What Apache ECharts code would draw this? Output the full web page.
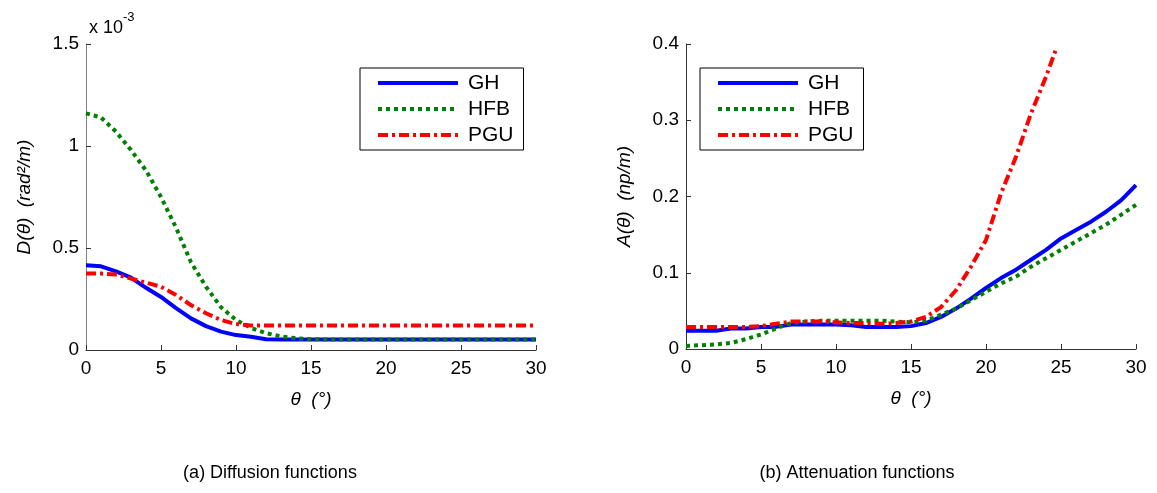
<!DOCTYPE html>
<html>
<head>
	<meta charset="utf-8">
	<title>Diffusion and attenuation functions</title>
	<script src="https://cdn.jsdelivr.net/npm/echarts@6/dist/echarts.min.js"></script>
	<style>
		html, body { margin: 0; padding: 0; background: #fff; }
		#main { width: 1157px; height: 493px; }
	</style>
</head>
<body>
	<div id="main"></div>
	<script>
		// theta (degrees), sampled every 1 degree
		var theta = [0, 1, 2, 3, 4, 5, 6, 7, 8, 9, 10, 11, 12, 13, 14, 15, 16, 17, 18, 19, 20, 21, 22, 23, 24, 25, 26, 27, 28, 29, 30];
		var thetaPguAtt = [0, 1, 2, 3, 4, 5, 6, 7, 8, 9, 10, 11, 12, 13, 14, 15, 16, 17, 18, 19, 20, 21, 22, 23, 24, 24.7];

		// (a) D(theta), in units of 1e-3 rad^2/m
		var diffGH = [0.415, 0.41, 0.385, 0.355, 0.305, 0.26, 0.205, 0.155, 0.117, 0.09, 0.073, 0.065, 0.053, 0.052, 0.052, 0.052,
			0.052, 0.052, 0.052, 0.052, 0.052, 0.052, 0.052, 0.052, 0.052, 0.052, 0.052, 0.052, 0.052, 0.052, 0.052];
		var diffHFB = [1.16, 1.14, 1.07, 0.98, 0.88, 0.75, 0.6, 0.43, 0.31, 0.21, 0.147, 0.108, 0.083, 0.066, 0.058, 0.053,
			0.052, 0.052, 0.052, 0.052, 0.052, 0.052, 0.052, 0.052, 0.052, 0.052, 0.052, 0.052, 0.052, 0.052, 0.052];
		var diffPGU = [0.375, 0.375, 0.37, 0.35, 0.33, 0.31, 0.27, 0.22, 0.18, 0.147, 0.127, 0.12, 0.12, 0.12, 0.12, 0.12,
			0.12, 0.12, 0.12, 0.12, 0.12, 0.12, 0.12, 0.12, 0.12, 0.12, 0.12, 0.12, 0.12, 0.12, 0.12];

		// (b) A(theta), np/m
		var attGH = [0.024, 0.024, 0.024, 0.027, 0.027, 0.029, 0.029, 0.032, 0.032, 0.032, 0.032, 0.031, 0.029, 0.029, 0.029, 0.03,
			0.034, 0.042, 0.053, 0.066, 0.08, 0.093, 0.104, 0.117, 0.13, 0.145, 0.156, 0.167, 0.18, 0.195, 0.215];
		var attHFB = [0.004, 0.005, 0.006, 0.008, 0.013, 0.019, 0.027, 0.034, 0.036, 0.037, 0.037, 0.037, 0.037, 0.037, 0.036, 0.035,
			0.037, 0.045, 0.053, 0.064, 0.075, 0.086, 0.095, 0.108, 0.119, 0.13, 0.141, 0.152, 0.163, 0.176, 0.189];
		var attPGU = [0.029, 0.029, 0.029, 0.029, 0.029, 0.03, 0.033, 0.036, 0.036, 0.036, 0.035, 0.034, 0.034, 0.033, 0.034, 0.036,
			0.042, 0.055, 0.077, 0.108, 0.143, 0.204, 0.252, 0.309, 0.357, 0.395];

		var seriesNames = ['GH', 'HFB', 'PGU'];
		var xTicks = { min: 0, max: 30, interval: 5 };

		var pairs = function(xs, ys) {
			return ys.map(function(v, i) { return [xs[i], v]; });
		};

		var font = 'Liberation Sans, Arial, sans-serif';
		var styles = {
			GH: { color: '#0000ff', width: 4, type: 'solid' },
			HFB: { color: '#008000', width: 4, type: [4, 4] },
			PGU: { color: '#ff0000', width: 4, type: [10, 4, 3, 4] }
		};

		var makeLine = function(name, idx, data) {
			var s = styles[name];
			return {
				name: name,
				type: 'line',
				xAxisIndex: idx,
				yAxisIndex: idx,
				data: data,
				symbol: 'none',
				animation: false,
				lineStyle: { color: s.color, width: s.width, type: s.type },
				itemStyle: { color: s.color }
			};
		};

		var makeXAxis = function(idx) {
			return {
				type: 'value', gridIndex: idx,
				min: xTicks.min, max: xTicks.max, interval: xTicks.interval,
				name: 'θ  (°)', nameLocation: 'middle', nameGap: 40,
				nameTextStyle: { fontFamily: font, fontSize: 19, fontStyle: 'italic', color: '#000' },
				axisLine: { lineStyle: { color: '#333', width: 1 } },
				axisTick: { inside: true, length: 5, lineStyle: { color: '#333' } },
				axisLabel: { fontFamily: font, fontSize: 19, color: '#000', margin: 9 },
				splitLine: { show: false }
			};
		};

		var makeYAxis = function(idx, max, interval, name, lineColor) {
			return {
				type: 'value', gridIndex: idx,
				min: 0, max: max, interval: interval,
				name: name, nameLocation: 'middle', nameGap: 52,
				nameTextStyle: { fontFamily: font, fontSize: 19, fontStyle: 'italic', color: '#000' },
				axisLine: { show: true, lineStyle: { color: lineColor, width: 1 } },
				axisTick: { show: true, inside: true, length: 5, lineStyle: { color: '#333' } },
				axisLabel: { fontFamily: font, fontSize: 19, color: '#000', margin: 7 },
				splitLine: { show: false }
			};
		};

		var makeLegend = function(left) {
			return {
				orient: 'vertical',
				left: left, top: 68,
				data: seriesNames,
				itemWidth: 80, itemHeight: 14, itemGap: 2,
				padding: [3, 10, 3, 16],
				borderColor: '#000', borderWidth: 1,
				itemStyle: { opacity: 0 },
				lineStyle: { width: 4 },
				textStyle: { fontFamily: font, fontSize: 21, color: '#000', lineHeight: 24, padding: [0, 0, 0, 5] },
				selectedMode: false
			};
		};

		var option = {
			backgroundColor: '#fff',
			animation: false,
			title: [
				{
					text: '{a|x 10}{b|-3}',
					left: 84, top: 6,
					textStyle: {
						fontWeight: 'normal',
						rich: {
							a: { fontFamily: font, fontSize: 18, fontWeight: 'normal', color: '#000', padding: [8, 0, 0, 0] },
							b: { fontFamily: font, fontSize: 13, fontWeight: 'normal', color: '#000', verticalAlign: 'top' }
						}
					}
				},
				{
					text: '(a) Diffusion functions',
					left: 265, top: 459, textAlign: 'center',
					textStyle: { fontFamily: font, fontSize: 18, fontWeight: 'normal', color: '#000' }
				},
				{
					text: '(b) Attenuation functions',
					left: 852, top: 459, textAlign: 'center',
					textStyle: { fontFamily: font, fontSize: 18, fontWeight: 'normal', color: '#000' }
				}
			],
			legend: [makeLegend(360), makeLegend(700)],
			grid: [
				{ left: 86, right: 621, top: 44, bottom: 143 },
				{ left: 686, right: 21, top: 44, bottom: 144 }
			],
			xAxis: [makeXAxis(0), makeXAxis(1)],
			yAxis: [
				makeYAxis(0, 1.5, 0.5, 'D(θ)  (rad²/m)', '#808080'),
				makeYAxis(1, 0.4, 0.1, 'A(θ)  (np/m)', '#333')
			],
			series: [
				makeLine('GH', 0, pairs(theta, diffGH)),
				makeLine('HFB', 0, pairs(theta, diffHFB)),
				makeLine('PGU', 0, pairs(theta, diffPGU)),
				makeLine('GH', 1, pairs(theta, attGH)),
				makeLine('HFB', 1, pairs(theta, attHFB)),
				makeLine('PGU', 1, pairs(thetaPguAtt, attPGU))
			]
		};

		var chart = echarts.init(document.getElementById('main'), null, { renderer: 'canvas' });
		chart.setOption(option);
	</script>
</body>
</html>
